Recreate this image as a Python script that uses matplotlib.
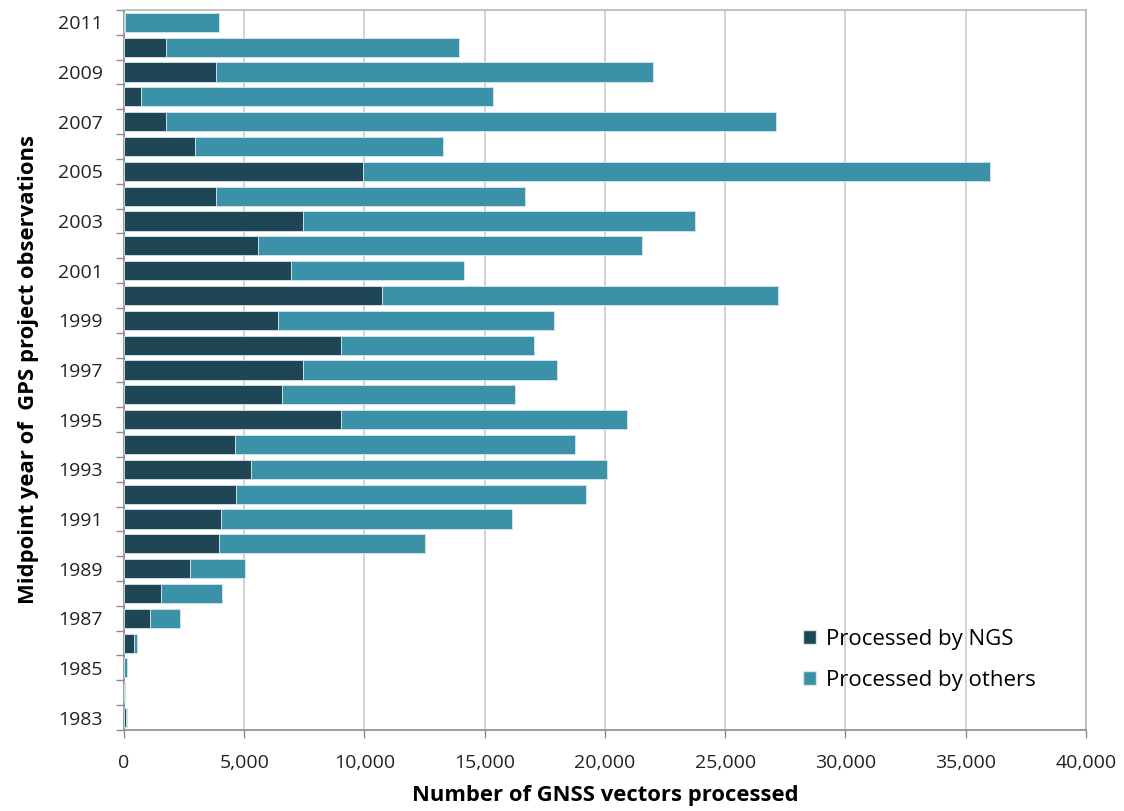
import matplotlib
matplotlib.use("Agg")
import matplotlib.pyplot as plt
import numpy as np
from matplotlib.patches import Patch

plt.rcParams['font.family'] = ['Open Sans', 'DejaVu Sans']

# Midpoint year of each GPS project
years = list(range(1983, 2012))
# GNSS vectors processed by NGS
ngs = [100, 0, 20, 410, 1080, 1550, 2745, 3940, 4020, 4660,
       5285, 4605, 9005, 6575, 7460, 9005, 6420, 10725, 6935, 5590,
       7460, 3830, 9950, 2950, 1760, 705, 3830, 1760, 60]
# GNSS vectors processed by others
others = [10, 50, 90, 145, 1235, 2540, 2275, 8590, 12130, 14555,
          14820, 14140, 11935, 9700, 10560, 8035, 11450, 16475, 7205, 15960,
          16270, 12860, 26070, 10300, 25340, 14625, 18190, 12170, 3910]
x_ticks = [0, 5000, 10000, 15000, 20000, 25000, 30000, 35000, 40000]

c_ngs = '#1F4654'
c_oth = '#3A91A8'

fig = plt.figure(figsize=(11.24, 8.11), dpi=100)
ax = fig.add_axes([0.1103, 0.0999, 0.8557, 0.8878])

pos = np.arange(len(years))
ax.barh(pos, ngs, height=0.77, color=c_ngs, edgecolor='#D6E6EA', linewidth=0.6,
        label='Processed by NGS', zorder=3)
ax.barh(pos, others, left=ngs, height=0.77, color=c_oth, edgecolor='#D6E6EA',
        linewidth=0.6, label='Processed by others', zorder=3)

ax.set_xlim(0, 40000)
ax.set_ylim(-0.5, len(years) - 0.5)

ax.set_xticks(x_ticks)
ax.set_xticklabels([f'{v:,}' for v in x_ticks], fontsize=14, color='#222222')
ax.xaxis.grid(True, color='#C8C8C8', linewidth=1.1, zorder=0)

# category boundaries carry the tick marks, odd years carry the labels
ax.set_yticks(np.arange(-0.5, len(years), 1.0))
ax.set_yticklabels([])
ax.set_yticks([p for p, y in zip(pos, years) if y % 2 == 1], minor=True)
ax.set_yticklabels([str(y) for y in years if y % 2 == 1], minor=True,
                   fontsize=14, color='#222222')
ax.tick_params(axis='y', which='major', length=6, color='#8C8C8C', width=1)
ax.tick_params(axis='y', which='minor', length=0, pad=15)
ax.tick_params(axis='x', which='major', length=6, color='#8C8C8C', width=1, pad=11)

for s in ['left', 'bottom']:
    ax.spines[s].set_color('#8C8C8C')
    ax.spines[s].set_linewidth(1.2)
for s in ['top', 'right']:
    ax.spines[s].set_color('#B8B8B8')
    ax.spines[s].set_linewidth(1.2)

ax.set_xlabel('Number of GNSS vectors processed', fontsize=15.8,
              fontweight='bold', labelpad=10)
ax.set_ylabel('Midpoint year of  GPS project observations', fontsize=15.8,
              fontweight='bold', labelpad=14)

handles = [Patch(facecolor=c_ngs, edgecolor='#D6E6EA', label='Processed by NGS'),
           Patch(facecolor=c_oth, edgecolor='#D6E6EA', label='Processed by others')]
leg = ax.legend(handles=handles, loc='lower left', bbox_to_anchor=(0.685, 0.026),
                frameon=False, fontsize=16, handlelength=0.6, handleheight=0.6,
                handletextpad=0.45, labelspacing=0.9)

fig.savefig('out.png', dpi=100, facecolor='white')
